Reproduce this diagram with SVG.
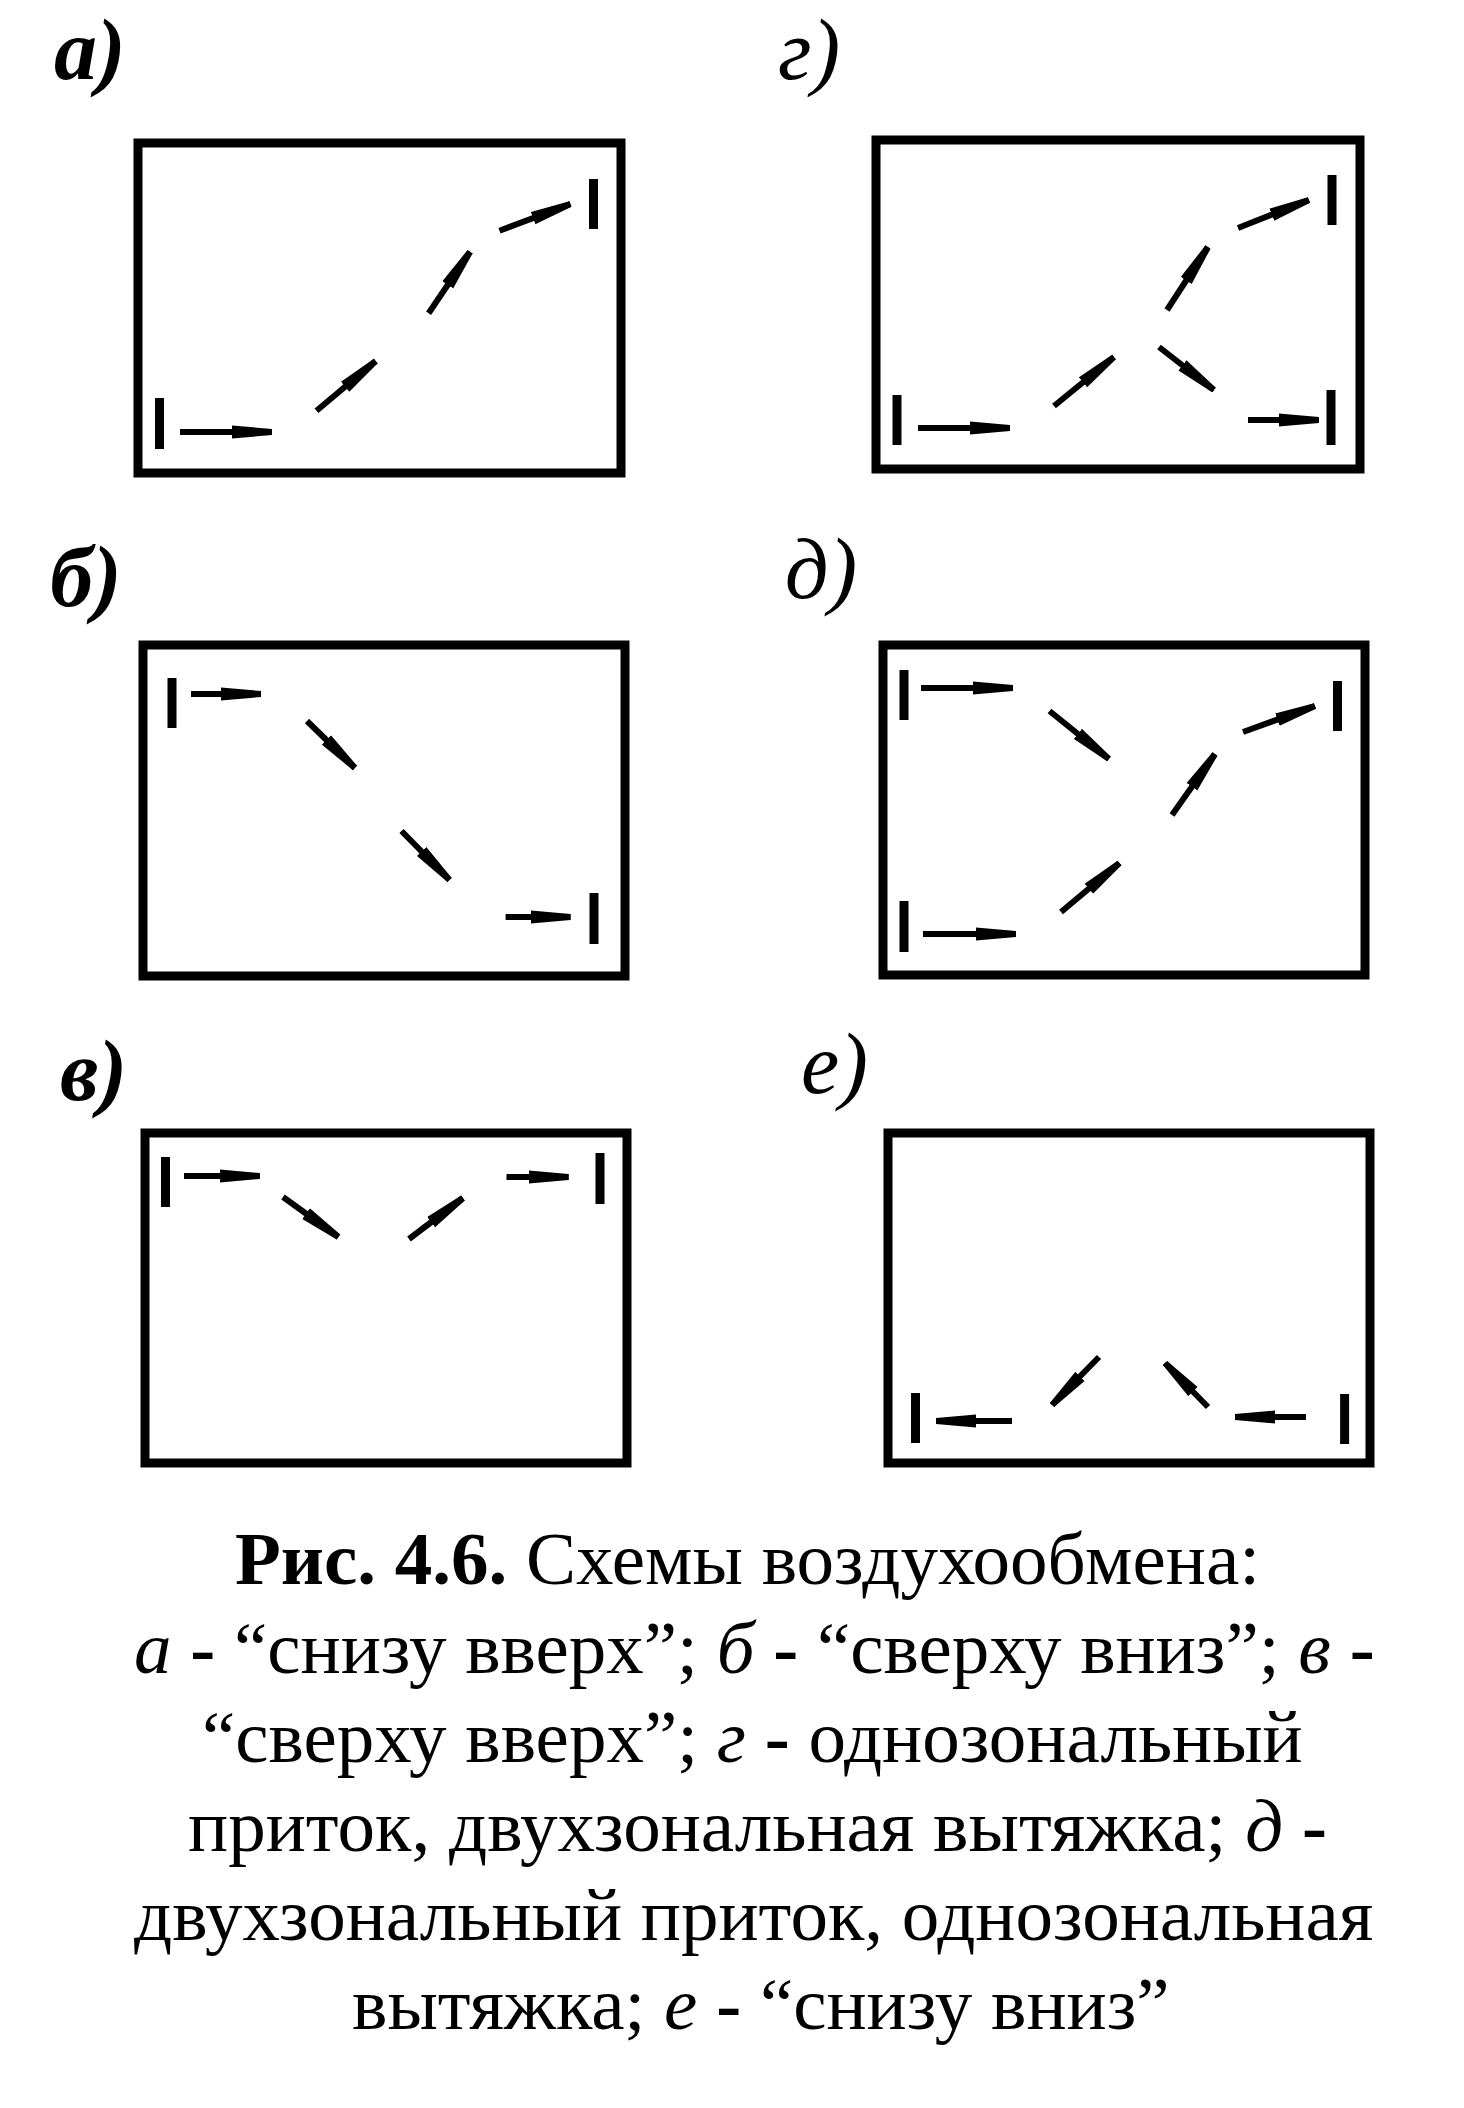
<svg xmlns="http://www.w3.org/2000/svg" width="1464" height="2108" viewBox="0 0 1464 2108">
<style>
.frame{fill:none;stroke:#000;stroke-width:9}
.bar{stroke:#000;stroke-width:9;stroke-linecap:butt}
.arr{stroke:#000;stroke-width:6;stroke-linecap:butt;fill:none;marker-end:url(#head)}
.lbl{font-family:"Liberation Serif","Times New Roman",serif;font-style:italic;font-size:86px;fill:#000}
.lb{font-weight:bold}
.cap{font-family:"Liberation Serif","Times New Roman",serif;font-size:75px;fill:#000}
.it{font-style:italic}
.bd{font-weight:bold}
</style>
<defs>
<marker id="head" markerUnits="userSpaceOnUse" viewBox="0 -7 40 14" markerWidth="40" markerHeight="14" refX="40" refY="0" orient="auto">
<path d="M0,-6.5 L40,-3 L40,3 L0,6.5 Z" fill="#000"/>
</marker>
</defs>
<rect width="1464" height="2108" fill="#fff"/>

<g id="panel-a">
<text class="lbl lb" x="54" y="79">а)</text>
<rect class="frame" x="138" y="143" width="483" height="330"/>
<line class="bar" x1="159.5" y1="398" x2="159.5" y2="449"/>
<line class="bar" x1="593.5" y1="179" x2="593.5" y2="229"/>
<g class="connectors">
<line class="arr" x1="180" y1="432" x2="272" y2="432"/>
<line class="arr" x1="316.5" y1="410.7" x2="375.8" y2="361"/>
<line class="arr" x1="428.6" y1="313.3" x2="470.1" y2="251.7"/>
<line class="arr" x1="499.5" y1="230.7" x2="570.5" y2="204"/>
</g>
</g>

<g id="panel-g">
<text class="lbl" x="778" y="79">г)</text>
<rect class="frame" x="876" y="140" width="484" height="329"/>
<line class="bar" x1="897" y1="395" x2="897" y2="445"/>
<line class="bar" x1="1332" y1="175" x2="1332" y2="225"/>
<line class="bar" x1="1331" y1="390" x2="1331" y2="445"/>
<g class="connectors">
<line class="arr" x1="918" y1="428" x2="1010" y2="428"/>
<line class="arr" x1="1054" y1="406" x2="1114" y2="357"/>
<line class="arr" x1="1167" y1="310" x2="1208" y2="247"/>
<line class="arr" x1="1238" y1="228" x2="1309" y2="200"/>
<line class="arr" x1="1159" y1="347" x2="1214" y2="390"/>
<line class="arr" x1="1248" y1="420" x2="1319" y2="420"/>
</g>
</g>

<g id="panel-b">
<text class="lbl lb" x="50" y="606">б)</text>
<rect class="frame" x="143" y="645" width="482" height="331"/>
<line class="bar" x1="172" y1="678" x2="172" y2="728"/>
<line class="bar" x1="594" y1="893" x2="594" y2="944"/>
<g class="connectors">
<line class="arr" x1="191" y1="694" x2="261" y2="694"/>
<line class="arr" x1="307" y1="721" x2="355" y2="768"/>
<line class="arr" x1="401.5" y1="831" x2="449.6" y2="880"/>
<line class="arr" x1="505.6" y1="917" x2="570.5" y2="917"/>
</g>
</g>

<g id="panel-d">
<text class="lbl" x="785" y="598">д)</text>
<rect class="frame" x="883" y="645" width="482" height="330"/>
<line class="bar" x1="904" y1="670" x2="904" y2="720"/>
<line class="bar" x1="1337.5" y1="681" x2="1337.5" y2="731"/>
<line class="bar" x1="904" y1="901" x2="904" y2="952"/>
<g class="connectors">
<line class="arr" x1="921" y1="688" x2="1013" y2="688"/>
<line class="arr" x1="1049.5" y1="711" x2="1109" y2="759"/>
<line class="arr" x1="1172" y1="815" x2="1215" y2="754"/>
<line class="arr" x1="1243" y1="732" x2="1315" y2="706"/>
<line class="arr" x1="923" y1="934" x2="1016" y2="934"/>
<line class="arr" x1="1061" y1="912" x2="1119.5" y2="863"/>
</g>
</g>

<g id="panel-v">
<text class="lbl lb" x="60" y="1100">в)</text>
<rect class="frame" x="145" y="1133" width="482" height="330"/>
<line class="bar" x1="165.5" y1="1157" x2="165.5" y2="1207"/>
<line class="bar" x1="600" y1="1153" x2="600" y2="1204"/>
<g class="connectors">
<line class="arr" x1="184" y1="1176" x2="260" y2="1176"/>
<line class="arr" x1="283" y1="1197" x2="338.5" y2="1237"/>
<line class="arr" x1="409" y1="1239" x2="463" y2="1198"/>
<line class="arr" x1="506.5" y1="1177" x2="568.6" y2="1177"/>
</g>
</g>

<g id="panel-e">
<text class="lbl" x="801" y="1093">е)</text>
<rect class="frame" x="888" y="1133" width="482" height="330"/>
<line class="bar" x1="915.5" y1="1393" x2="915.5" y2="1443"/>
<line class="bar" x1="1344.6" y1="1394" x2="1344.6" y2="1444"/>
<g class="connectors">
<line class="arr" x1="1012" y1="1421" x2="936" y2="1421"/>
<line class="arr" x1="1099" y1="1357" x2="1052" y2="1405"/>
<line class="arr" x1="1208" y1="1407" x2="1165" y2="1363"/>
<line class="arr" x1="1306" y1="1417" x2="1235" y2="1417"/>
</g>
</g>

<g id="caption">
<text class="cap" x="235" y="1584"><tspan class="bd">Рис. 4.6.</tspan> Схемы воздухообмена:</text>
<text class="cap" x="134" y="1673"><tspan class="it">а</tspan><tspan class="bd"> - </tspan>“снизу вверх”; <tspan class="it">б</tspan><tspan class="bd"> - </tspan>“сверху вниз”; <tspan class="it">в</tspan><tspan class="bd"> -</tspan></text>
<text class="cap" x="202" y="1762">“сверху вверх”; <tspan class="it">г</tspan><tspan class="bd"> - </tspan>однозональный</text>
<text class="cap" x="188" y="1851">приток, двухзональная вытяжка; <tspan class="it">д</tspan><tspan class="bd"> -</tspan></text>
<text class="cap" x="134" y="1940">двухзональный приток, однозональная</text>
<text class="cap" x="352" y="2029">вытяжка; <tspan class="it">е</tspan><tspan class="bd"> - </tspan>“снизу вниз”</text>
</g>
</svg>
